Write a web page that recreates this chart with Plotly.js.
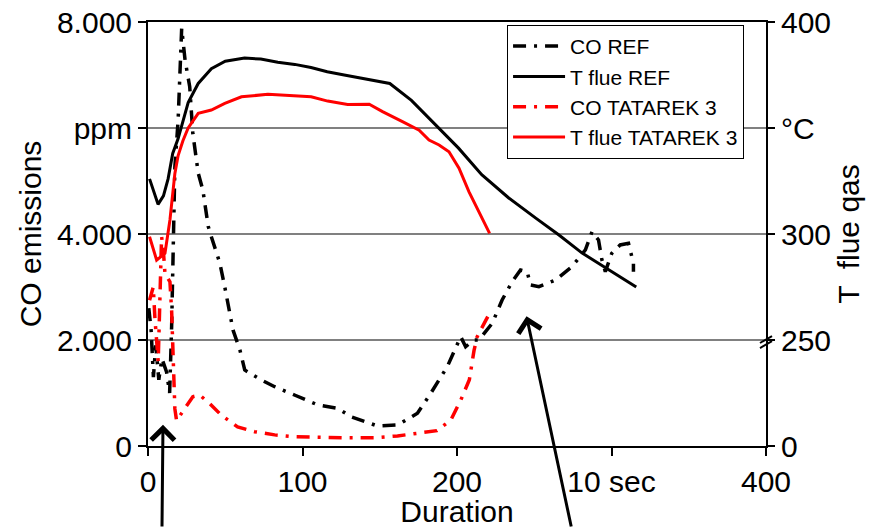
<!DOCTYPE html>
<html>
<head>
<meta charset="utf-8">
<script src="https://cdn.plot.ly/plotly-3.0.1.min.js"></script>
<style>
html,body{margin:0;padding:0;background:#fff;}
#chart{width:871px;height:528px;}
</style>
</head>
<body>
<div id="chart"></div>
<script>
// ---- Data ----
// CO emissions, REF (ppm, left axis)
var coRefX = [0.5, 2, 3.5, 5, 7, 9, 12, 14, 15.3, 17.4, 19.5, 20.6, 21.8, 24, 27, 29, 32.5, 35.5, 39, 41, 46.5, 49.7, 55, 59.5, 62.6, 73.4, 82, 94.8, 110, 122.8, 131.4, 148.6, 161.5, 174.4, 183, 193.7, 202.4, 205.6, 210.9, 214.2, 222.8, 229.2, 235.7, 241.1, 245.4, 247.6, 253, 263.7, 274.4, 283.1, 287.4, 291.6, 293.8, 296, 300.2, 305.6, 311, 314.2, 314.2];
var coRefY = [2600, 2200, 1300, 1900, 1250, 1650, 1400, 1000, 2260, 5270, 6150, 6900, 7880, 7280, 6780, 5900, 5150, 4830, 4140, 3950, 3450, 3000, 2190, 1810, 1434, 1245, 1119, 962, 774, 711, 553, 377, 396, 617, 994, 1496, 2063, 1874, 2000, 2000, 2315, 2755, 3100, 3321, 3289, 3038, 3006, 3132, 3384, 3699, 4044, 3887, 3510, 3289, 3636, 3793, 3825, 3448, 3289];

// T flue gas, REF (deg C, right axis)
var tRefX = [1, 3, 6.5, 10, 13, 16, 19.5, 26, 32.5, 41, 50, 62.5, 73, 84, 95, 105.5, 116, 127, 138, 143, 156.5, 170.5, 186, 201, 216, 233.5, 251, 266, 281, 292, 316];
var tRefY = [326, 322, 314, 318, 326, 338, 345, 362, 371, 378, 381.5, 383, 382.5, 381, 380, 378.5, 376.5, 375, 373.5, 372.5, 371, 363, 351.5, 340.5, 328, 317, 307.5, 299.5, 291, 286, 275];

// CO emissions, TATAREK 3 (ppm, left axis)
var coTatX = [1, 3.4, 4.5, 5.6, 6.6, 8.8, 9.9, 11, 14.2, 15.3, 16.3, 17.4, 18.5, 24, 29, 33.5, 40, 47.5, 58, 69, 82, 95, 108, 127, 146.5, 161.5, 174.5, 187, 196, 202.5, 208, 211, 213, 217.5, 221];
var coTatY = [2750, 3000, 2400, 1900, 1600, 3950, 3700, 3250, 3100, 2550, 1600, 700, 480, 710, 930, 960, 800, 580, 360, 270, 210, 175, 165, 155, 155, 190, 240, 290, 490, 870, 1250, 1800, 2060, 2320, 2500];

// T flue gas, TATAREK 3 (deg C, right axis)
var tTatX = [1, 5.6, 11, 14.2, 17.4, 19.5, 22.6, 26, 32.5, 41, 49.7, 60.5, 77.6, 90.5, 105.6, 116.3, 129.2, 143.2, 151.8, 164.7, 175.5, 181.9, 188.4, 194.8, 201.3, 207.7, 214.2, 221.1];
var tTatY = [298.7, 287.7, 290.9, 306.6, 328.6, 337, 344, 350, 356.9, 358.5, 361.6, 364.7, 365.9, 365.5, 364.7, 362.7, 361.1, 361.2, 357.7, 353, 349, 344.3, 342, 338.8, 331, 320, 310.5, 300.3];

var seriesNames = ["CO REF", "T flue REF", "CO TATAREK 3", "T flue TATAREK 3"];

// Axis ticks
var xTickVals = [0, 100, 200, 300, 400];
var xTickText = ["0", "100", "200", "10 sec", "400"];
var yTickVals = [0, 2000, 4000, 6000, 8000];
var yTickText = ["0", "2.000", "4.000", "ppm", "8.000"];
var y2TickVals = [200, 250, 300, 350, 400];
var y2TickText = ["0", "250", "300", "°C", "400"];

var FONT = "Liberation Sans, Arial, sans-serif";
var dashDot = "13px,8px,3px,8px";

var traces = [
  {x: coRefX, y: coRefY, name: seriesNames[0], type: "scatter", mode: "lines",
   line: {color: "#000000", width: 3.5, dash: dashDot}, yaxis: "y"},
  {x: tRefX, y: tRefY, name: seriesNames[1], type: "scatter", mode: "lines",
   line: {color: "#000000", width: 3}, yaxis: "y2"},
  {x: coTatX, y: coTatY, name: seriesNames[2], type: "scatter", mode: "lines",
   line: {color: "#FF0000", width: 3.5, dash: dashDot}, yaxis: "y"},
  {x: tTatX, y: tTatY, name: seriesNames[3], type: "scatter", mode: "lines",
   line: {color: "#FF0000", width: 3}, yaxis: "y2"}
];

var layout = {
  width: 871, height: 528,
  margin: {l: 148, r: 105, t: 22, b: 82, pad: 0},
  paper_bgcolor: "#ffffff", plot_bgcolor: "#ffffff",
  font: {family: FONT, size: 30, color: "#000000"},
  showlegend: true,
  legend: {
    x: 0.581, y: 0.993, xanchor: "left", yanchor: "top",
    bgcolor: "#ffffff", bordercolor: "#000000", borderwidth: 1,
    font: {family: FONT, size: 21, color: "#000000"},
    itemwidth: 52,
    tracegroupgap: 0
  },
  xaxis: {
    range: [0, 400], tickmode: "array", tickvals: xTickVals, ticktext: xTickText,
    ticks: "outside", ticklen: 8, tickwidth: 2, tickcolor: "#000000",
    showline: true, linecolor: "#000000", linewidth: 2, mirror: true,
    showgrid: false, zeroline: false,
    tickfont: {family: FONT, size: 30, color: "#000000"},
    title: {text: "Duration", font: {family: FONT, size: 30, color: "#000000"}, standoff: 8}
  },
  yaxis: {
    range: [0, 8000], tickmode: "array", tickvals: yTickVals, ticktext: yTickText,
    ticks: "outside", ticklen: 8, tickwidth: 2, tickcolor: "#000000",
    showline: true, linecolor: "#000000", linewidth: 2,
    showgrid: true, gridcolor: "#808080", gridwidth: 1.5, zeroline: false,
    tickfont: {family: FONT, size: 30, color: "#000000"},
    title: {text: "CO emissions", font: {family: FONT, size: 30, color: "#000000"}, standoff: 6}
  },
  yaxis2: {
    overlaying: "y", side: "right", anchor: "x",
    range: [200, 400], tickmode: "array", tickvals: y2TickVals, ticktext: y2TickText,
    ticks: "outside", ticklen: 7, tickwidth: 2, tickcolor: "#000000",
    showline: true, linecolor: "#000000", linewidth: 2,
    showgrid: false, zeroline: false,
    tickfont: {family: FONT, size: 30, color: "#000000"},
    title: {text: "T  flue qas", font: {family: FONT, size: 30, color: "#000000"}, standoff: 8}
  },
  shapes: [
    {type: "line", xref: "paper", yref: "paper", x0: 0.9903, y0: 0.2311, x1: 1.0097, y1: 0.2476,
     line: {color: "#000000", width: 2}},
    {type: "line", xref: "paper", yref: "paper", x0: 0.9903, y0: 0.2429, x1: 1.0097, y1: 0.2594,
     line: {color: "#000000", width: 2}}
  ],
  annotations: [
    {x: 9.7, y: 400, xref: "x", yref: "y", text: "", showarrow: true,
     arrowhead: 4, arrowsize: 1.5, arrowwidth: 3, arrowcolor: "#000000",
     ax: -1, ay: 135, standoff: 0},
    {x: 245, y: 2450, xref: "x", yref: "y", text: "", showarrow: true,
     arrowhead: 4, arrowsize: 1.5, arrowwidth: 3, arrowcolor: "#000000",
     ax: 45, ay: 245, standoff: 0}
  ]
};

Plotly.newPlot("chart", traces, layout, {displayModeBar: false, staticPlot: true});
</script>
</body>
</html>
